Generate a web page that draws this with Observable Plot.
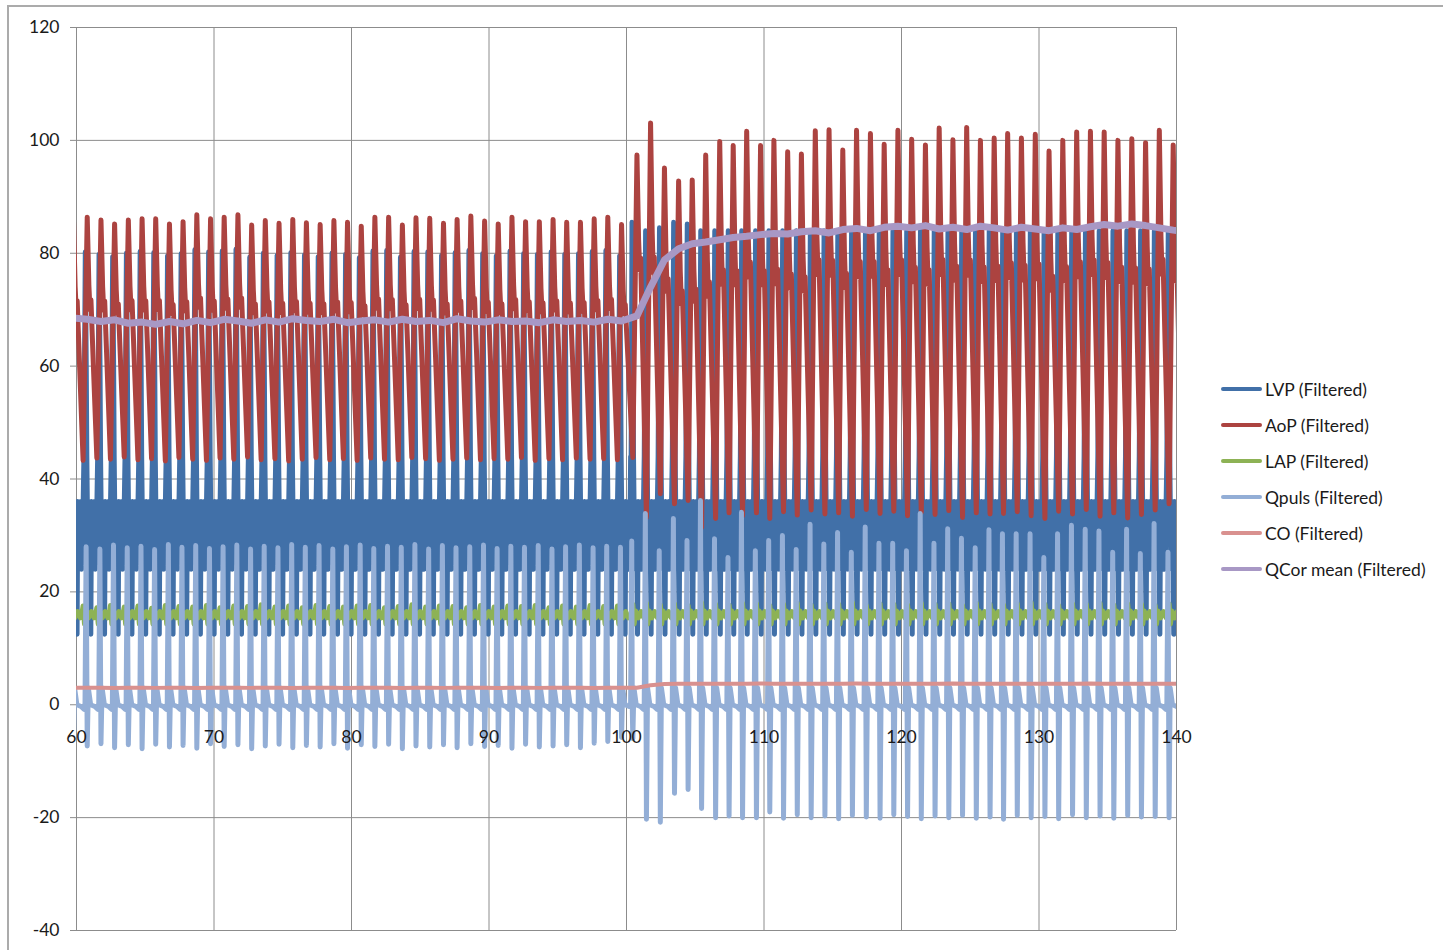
<!DOCTYPE html>
<html><head><meta charset="utf-8">
<script src="https://cdn.jsdelivr.net/npm/d3@7"></script>
<script src="https://cdn.jsdelivr.net/npm/@observablehq/plot@0.6"></script>
<style>
html,body{margin:0;padding:0;background:#fff;overflow:hidden;}
#wrap{position:relative;width:1443px;height:950px;overflow:hidden;}
#frame{position:absolute;left:7px;top:5px;width:1500px;height:1000px;border:2px solid #ababab;pointer-events:none;}
#legend{position:absolute;left:1221px;top:0;font-family:Lato, sans-serif;font-size:17.5px;color:#1a1a1a;}
.item{position:absolute;left:0;white-space:nowrap;display:flex;align-items:center;height:20px;}
.sw{display:inline-block;width:41px;height:4px;margin-right:3px;border-radius:2px;}
</style></head>
<body><div id="wrap"><div id="chart"></div><div id="legend"></div><div id="frame"></div></div>
<script>
// ---- axis ticks ----
const xTicks = [60, 70, 80, 90, 100, 110, 120, 130, 140];
const yTicks = [-40, -20, 0, 20, 40, 60, 80, 100, 120];

// ---- series names / colours ----
const seriesNames = ["LVP (Filtered)", "AoP (Filtered)", "LAP (Filtered)", "Qpuls (Filtered)", "CO (Filtered)", "QCor mean (Filtered)"];
const seriesColors = ["#4170A8", "#AC4340", "#8DB255", "#93AED6", "#D9918F", "#A898C5"];

// ---- beat (AoP peak) times, s ----
const beatTimes = [59.78,
 60.78, 61.78, 62.77, 63.77, 64.77, 65.76, 66.76, 67.75, 68.75, 69.75,
 70.74, 71.74, 72.74, 73.73, 74.73, 75.73, 76.72, 77.72, 78.72, 79.71,
 80.71, 81.70, 82.70, 83.70, 84.69, 85.69, 86.69, 87.68, 88.68, 89.68,
 90.67, 91.67, 92.66, 93.66, 94.66, 95.65, 96.65, 97.65, 98.64, 99.64,
 100.76, 101.75, 102.76, 103.79, 104.78, 105.76, 106.78, 107.76, 108.74, 109.75,
 110.72, 111.72, 112.72, 113.73, 114.73, 115.73, 116.73, 117.74, 118.74, 119.74,
 120.74, 121.74, 122.74, 123.74, 124.74, 125.74, 126.74, 127.72, 128.72, 129.73,
 130.73, 131.73, 132.74, 133.74, 134.74, 135.74, 136.75, 137.75, 138.75, 139.76,
 140.76];

// AoP systolic peak per beat
const aopSys = [86.0,
 86.4, 85.9, 85.2, 85.9, 86.1, 86.1, 85.2, 85.6, 86.8, 86.1,
 86.4, 86.8, 85.0, 85.8, 85.3, 86.0, 85.4, 85.1, 85.8, 85.5,
 84.8, 86.4, 86.4, 85.0, 86.3, 86.2, 85.3, 86.0, 86.6, 85.7,
 85.2, 86.4, 85.6, 85.6, 86.0, 85.5, 85.5, 86.1, 86.4, 85.1,
 97.4, 103.1, 95.1, 92.8, 93.0, 97.4, 99.8, 99.1, 101.6, 99.1,
 100.0, 98.0, 97.6, 101.7, 101.9, 98.3, 101.8, 101.2, 99.3, 101.8,
 100.2, 99.2, 102.2, 100.1, 102.3, 100.0, 100.4, 101.2, 100.4, 101.1,
 98.1, 100.0, 101.5, 101.6, 101.5, 100.0, 100.3, 99.6, 101.8, 99.2,
 100.5];

// AoP diastolic trough before each beat
const aopDia = [43.6,
 43.3, 43.7, 43.5, 43.9, 43.4, 43.6, 43.2, 43.8, 43.5, 43.3,
 43.7, 43.5, 43.9, 43.4, 43.6, 43.2, 43.5, 43.8, 43.4, 43.6,
 43.3, 43.7, 43.5, 43.4, 43.8, 43.6, 43.3, 43.5, 43.7, 43.4,
 43.6, 43.5, 43.8, 43.3, 43.6, 43.4, 43.7, 43.5, 43.6, 43.4,
 43.8, 33.2, 37.4, 35.6, 36.2, 31.4, 33.0, 34.0, 33.5, 34.0,
 33.0, 34.2, 33.6, 34.5, 33.8, 34.0, 33.4, 34.6, 33.9, 34.3,
 33.5, 34.1, 33.7, 34.4, 33.2, 34.0, 33.8, 33.9, 34.2, 33.5,
 33.0, 34.3, 33.8, 34.6, 33.4, 34.0, 33.1, 33.7, 34.5, 35.6,
 34.0];

// LVP peak per beat
const lvpSys = [80.0,
 80.2, 79.8, 79.4, 80.0, 80.3, 80.1, 79.5, 79.9, 80.6, 80.2,
 80.4, 80.7, 79.3, 80.0, 79.6, 80.1, 79.7, 79.4, 80.0, 79.8,
 79.2, 80.4, 80.5, 79.3, 80.3, 80.2, 79.6, 80.1, 80.5, 79.9,
 79.5, 80.4, 79.9, 79.8, 80.2, 79.8, 79.9, 80.3, 80.5, 79.5,
 85.5, 84.0, 84.5, 85.5, 85.2, 84.0, 84.0, 84.0, 84.0, 84.0,
 84.0, 84.0, 84.0, 84.0, 84.0, 84.0, 84.0, 84.0, 84.0, 84.0,
 84.0, 84.0, 84.0, 84.0, 84.0, 84.0, 84.0, 84.0, 84.0, 84.0,
 84.0, 84.0, 84.0, 84.0, 84.0, 84.0, 84.0, 84.0, 84.0, 84.0,
 84.0];

// Qpuls max / min per beat
const qpulsMax = [28.0,
 28.0, 27.6, 28.3, 27.8, 28.1, 27.5, 28.4, 27.9, 28.2, 27.7,
 28.0, 28.3, 27.6, 28.1, 27.8, 28.4, 27.9, 28.2, 27.6, 28.0,
 28.3, 27.7, 28.1, 27.9, 28.4, 27.6, 28.2, 27.8, 28.0, 28.3,
 27.7, 28.1, 27.9, 28.2, 27.6, 28.0, 28.3, 27.8, 28.1, 27.9,
 29.0, 33.9, 27.3, 33.0, 29.1, 36.2, 29.4, 26.1, 34.1, 27.3,
 29.1, 30.0, 27.5, 32.0, 28.5, 30.5, 27.0, 31.5, 28.6, 28.6,
 27.3, 33.9, 28.6, 31.2, 29.5, 27.8, 31.0, 30.3, 30.3, 30.3,
 26.1, 30.3, 31.8, 31.1, 30.8, 27.0, 31.1, 26.8, 32.1, 27.0,
 29.0];
const qpulsMin = [-7.2,
 -7.3, -6.9, -7.6, -7.1, -7.8, -7.0, -7.5, -7.2, -7.7, -6.9,
 -7.4, -7.1, -7.8, -7.3, -7.0, -7.6, -7.2, -7.5, -6.9, -7.7,
 -7.1, -7.4, -7.0, -7.8, -7.3, -7.5, -7.1, -7.6, -6.9, -7.4,
 -7.2, -7.7, -7.0, -7.5, -7.3, -7.1, -7.6, -6.8, -6.5, -5.8,
 -6.0, -20.3, -20.8, -15.7, -15.0, -18.4, -20.0, -19.7, -20.0, -20.0,
 -19.0, -20.1, -19.5, -20.0, -19.7, -20.2, -19.6, -19.9, -20.1, -19.5,
 -19.8, -20.2, -19.7, -20.0, -19.6, -20.1, -19.9, -20.3, -19.6, -20.0,
 -19.8, -20.2, -19.5, -20.0, -19.7, -20.1, -19.6, -19.9, -19.8, -20.0,
 -19.8];

// LAP upper tick per beat
const lapHi = [17.4,
 17.5, 17.2, 17.6, 17.3, 17.5, 17.1, 17.6, 17.4, 17.3, 17.6,
 17.2, 17.5, 17.4, 17.7, 17.3, 17.5, 17.2, 17.6, 17.4, 17.3,
 17.5, 17.6, 17.2, 17.4, 17.7, 17.3, 17.5, 17.4, 17.2, 17.6,
 17.3, 17.5, 17.4, 17.6, 17.2, 17.5, 17.3, 17.6, 17.4, 17.5,
 17.8, 18.0, 17.7, 17.9, 17.6, 18.1, 17.8, 17.7, 18.0, 17.9,
 17.6, 17.8, 18.0, 17.7, 17.9, 17.8, 18.1, 17.6, 17.9, 17.8,
 17.7, 18.0, 17.8, 17.9, 17.6, 18.0, 17.8, 17.7, 17.9, 18.1,
 17.8, 17.6, 17.9, 17.8, 18.0, 17.7, 17.9, 17.8, 17.6, 17.9,
 17.8];

// CO per beat
const coValues = [3.0,
 3.0, 3.02, 2.98, 3.0, 3.03, 2.99, 3.01, 3.0, 2.98, 3.02,
 3.0, 3.01, 2.99, 3.03, 3.0, 2.98, 3.01, 3.02, 3.0, 2.99,
 3.01, 3.0, 3.02, 2.98, 3.0, 3.01, 2.99, 3.02, 3.0, 3.01,
 2.98, 3.0, 3.02, 2.99, 3.01, 3.0, 3.0, 2.98, 3.01, 3.0,
 3.0, 3.45, 3.68, 3.7, 3.72, 3.7, 3.74, 3.72, 3.7, 3.75,
 3.73, 3.7, 3.72, 3.74, 3.71, 3.73, 3.75, 3.72, 3.7, 3.74,
 3.72, 3.73, 3.7, 3.75, 3.72, 3.71, 3.74, 3.72, 3.73, 3.7,
 3.74, 3.72, 3.71, 3.75, 3.73, 3.7, 3.72, 3.74, 3.71, 3.73,
 3.72];

// QCor mean per beat
const qcorValues = [68.5,
 68.3, 67.9, 68.2, 67.6, 67.8, 67.4, 67.9, 67.5, 68.1, 67.7,
 68.3, 68.0, 67.6, 68.2, 67.8, 68.4, 68.1, 67.9, 68.3, 67.7,
 68.0, 68.2, 67.8, 68.3, 67.9, 68.1, 67.7, 68.4, 68.0, 67.8,
 68.2, 67.9, 68.0, 67.7, 68.2, 67.9, 68.1, 67.8, 68.3, 68.0,
 68.9, 74.0, 78.8, 80.8, 81.7, 82.0, 82.4, 82.8, 83.0, 83.3,
 83.5, 83.4, 83.8, 84.0, 83.6, 84.2, 84.4, 84.0, 84.6, 84.8,
 84.5, 84.9, 84.3, 84.6, 84.2, 84.8, 84.5, 84.1, 84.6, 84.3,
 84.0, 84.5, 84.2, 84.7, 85.1, 84.8, 85.2, 84.9, 84.5, 84.1,
 83.8];

// ---- in-beat shapes: [seconds from AoP peak, value] ----
const aopShape = [[-0.30, 0], [0.00, 1], [0.12, 0.72], [0.20, 0.62], [0.27, 0.66]]; // fraction of dia..sys
const lvpShape = [[-0.30, 35], [-0.24, 44], [-0.14, "sys"], [-0.07, 60], [-0.03, 44], [0.01, 35],
  [0.05, 24.5], [0.09, 35.5], [0.13, 24], [0.17, 35], [0.21, 25], [0.26, 12.5], [0.31, 36],
  [0.35, 24.5], [0.39, 35.5], [0.43, 24], [0.47, 35], [0.51, 24.5], [0.55, 36], [0.59, 24], [0.63, 35.5], [0.67, 25]];
const qpulsShape = [[-0.16, 0.3], [-0.08, "max"], [0.00, "min"], [0.08, 3.0], [0.25, 0.0], [0.55, -0.3], [0.78, -0.8]];
const lapShape = [[-0.40, 16.0], [-0.30, "hi"], [-0.20, 14.3], [-0.10, 16.6], [0.10, 15.4], [0.30, 16.5], [0.50, 15.4]];
const changeTime = 100.2;          // step change in the recording
const lvpLagAfter = -0.22, qpulsLagAfter = -0.30;

function wave(shape, lookup, lagAfter) {
  const pts = [];
  beatTimes.forEach((P, i) => {
    const lag = P > changeTime ? lagAfter : 0;
    for (const [dt, v] of shape) pts.push({t: P + dt + lag, v: typeof v === "string" ? lookup[v][i] : v});
  });
  return pts.sort((a, b) => a.t - b.t);
}
const aopPts = [];
beatTimes.forEach((P, i) => { for (const [dt, f] of aopShape) aopPts.push({t: P + dt, v: aopDia[i] + f * (aopSys[i] - aopDia[i])}); });
const lvpPts = wave(lvpShape, {sys: lvpSys}, lvpLagAfter);
const qpulsPts = wave(qpulsShape, {max: qpulsMax, min: qpulsMin}, qpulsLagAfter);
const lapPts = wave(lapShape, {hi: lapHi}, 0);
const coPts = beatTimes.map((t, i) => ({t, v: coValues[i]}));
const qcorPts = beatTimes.map((t, i) => ({t, v: qcorValues[i]}));

const gridColor = "#8c8c8c";
const line = (data, k, w) => Plot.line(data, {x: "t", y: "v", stroke: seriesColors[k], strokeWidth: w, clip: true, strokeLinejoin: "round", strokeLinecap: "round"});

const chart = Plot.plot({
  width: 1443, height: 950,
  marginLeft: 76, marginRight: 267, marginTop: 27, marginBottom: 20,
  style: {fontFamily: "Lato, sans-serif", fontSize: "17.5px", color: "#1a1a1a", background: "white", overflow: "visible"},
  x: {domain: [60, 140], axis: null},
  y: {domain: [-40, 120]},
  marks: [
    Plot.ruleX(xTicks, {stroke: gridColor, strokeWidth: 1}),
    Plot.ruleY(yTicks, {stroke: gridColor, strokeWidth: 1}),
    Plot.axisY(yTicks, {tickSize: 6, tickPadding: 11, label: null, stroke: gridColor, fill: "#1a1a1a", tickFormat: d => String(d)}),
    line(lvpPts, 0, 5),
    line(aopPts, 1, 5),
    line(lapPts, 2, 5),
    line(qpulsPts, 3, 5),
    line(coPts, 4, 4),
    line(qcorPts, 5, 7),
    Plot.text(xTicks, {x: d => d, y: () => 0, dy: 33, text: d => String(d), fill: "#1a1a1a"})
  ]
});
document.getElementById("chart").appendChild(chart);

const legend = document.getElementById("legend");
seriesNames.forEach((name, i) => {
  const it = document.createElement("div");
  it.className = "item";
  it.style.top = (379 + i * 36) + "px";
  const sw = document.createElement("span");
  sw.className = "sw";
  sw.style.background = seriesColors[i];
  it.appendChild(sw);
  it.appendChild(document.createTextNode(name));
  legend.appendChild(it);
});
</script></body></html>
